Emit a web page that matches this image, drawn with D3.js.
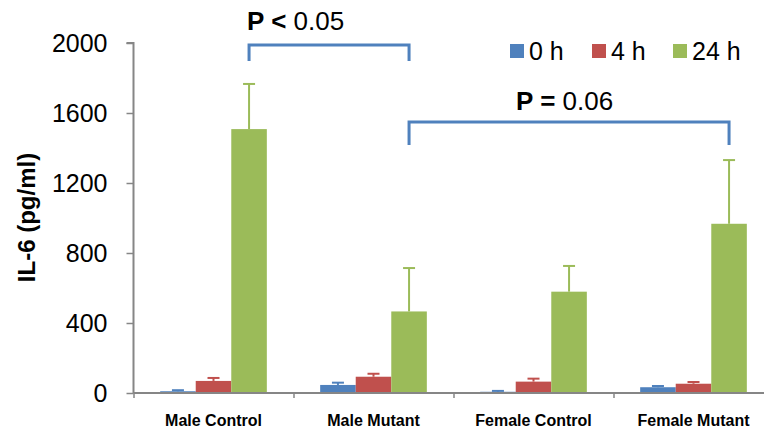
<!DOCTYPE html>
<html>
<head>
<meta charset="utf-8">
<script src="https://cdn.jsdelivr.net/npm/d3@7"></script>
<style>
  body { margin: 0; background: #fff; }
  svg { display: block; font-family: "Liberation Sans", Arial, sans-serif; }
</style>
</head>
<body>
<div id="chart"></div>
<script>
// Data
const groups = ["Male Control", "Male Mutant", "Female Control", "Female Mutant"];
const series = ["0 h", "4 h", "24 h"];
const colors = ["#4F81BD", "#C0504D", "#9BBB59"];

const h0 = [10, 46, 7, 33];
const h4 = [69, 93, 65, 53];
const h24 = [1508, 466, 579, 967];

// upper error per bar
const e0 = [6, 13, 5, 7];
const e4 = [17, 17, 17, 10];
const e24 = [258, 248, 147, 364];

const yTicks = [0, 400, 800, 1200, 1600, 2000];

// significance brackets (between the 24 h bars)
const brackets = [
    { from: 0, to: 1, level: 1989, drop: 16, op: "<", label: "0.05", dx: 0, dy: 15 },
    { from: 1, to: 3, level: 1549, drop: 23, op: "=", label: "0.06", dx: 109, dy: 12 }
];

const width = 764;
const height = 434;

const svg = d3.select("#chart")
    .append("svg")
    .attr("width", width)
    .attr("height", height);

const left = 133.5, right = 773.5;
const y = d3.scaleLinear().domain([0, 2000]).range([393, 43]);

const x = d3.scaleBand().domain(groups).range([left, right]);
const xs = d3.scaleBand().domain(series)
    .range([0, x.bandwidth()])
    .paddingInner(0)
    .paddingOuter(0.75);

const values = [h0, h4, h24];
const errs = [e0, e4, e24];

const rows = [];
series.forEach((s, si) => {
    groups.forEach((g, gi) => {
        rows.push({ g, s, si, v: values[si][gi], e: errs[si][gi] });
    });
});

// Bars
svg.append("g")
    .selectAll("rect")
    .data(rows)
    .join("rect")
    .attr("x", d => x(d.g) + xs(d.s))
    .attr("y", d => y(d.v))
    .attr("width", xs.bandwidth())
    .attr("height", d => y(0) - y(d.v))
    .attr("fill", d => colors[d.si]);

// Error bars (upper only)
const cx = d => x(d.g) + xs(d.s) + xs.bandwidth() / 2;
const eb = svg.append("g")
    .selectAll("g")
    .data(rows)
    .join("g")
    .attr("stroke", d => colors[d.si])
    .attr("stroke-width", 2);

eb.append("line")
    .attr("x1", cx)
    .attr("x2", cx)
    .attr("y1", d => y(d.v))
    .attr("y2", d => y(d.v + d.e));

eb.append("line")
    .attr("x1", d => cx(d) - 6)
    .attr("x2", d => cx(d) + 6)
    .attr("y1", d => y(d.v + d.e))
    .attr("y2", d => y(d.v + d.e));

// Y axis
const yAxis = svg.append("g")
    .attr("transform", `translate(${left},0)`)
    .call(d3.axisLeft(y).tickValues(yTicks).tickFormat(d3.format("d")).tickSize(7).tickPadding(19));
yAxis.select(".domain").attr("stroke", "#868686").attr("stroke-width", 2)
    .attr("d", `M-7,${y(2000)}H0V${y(0)}`);
yAxis.selectAll(".tick line").attr("stroke", "#868686").attr("stroke-width", 1.5);
yAxis.selectAll(".tick text")
    .attr("fill", "#000")
    .style("font-size", "25px");

// X axis: boundary ticks
const xIdx = d3.scaleLinear().domain([0, groups.length]).range([left, right]);
const xAxis = svg.append("g")
    .attr("transform", `translate(0,${y(0)})`)
    .call(d3.axisBottom(xIdx).tickValues(d3.range(groups.length + 1)).tickSize(5).tickFormat(""));
xAxis.select(".domain").attr("stroke", "#868686").attr("stroke-width", 2)
    .attr("d", `M${left},0H${right}`);
xAxis.selectAll(".tick line").attr("stroke", "#868686").attr("stroke-width", 1.5);

// X axis: category labels
const xLab = svg.append("g")
    .attr("transform", `translate(0,${y(0)})`)
    .call(d3.axisBottom(x).tickSize(0).tickPadding(22));
xLab.select(".domain").remove();
xLab.selectAll(".tick text")
    .attr("fill", "#000")
    .style("font-size", "16px")
    .style("font-weight", "bold");

// Y axis title
svg.append("text")
    .attr("transform", `translate(35,${(148 + 287) / 2}) rotate(-90)`)
    .attr("text-anchor", "middle")
    .style("font-size", "24px")
    .style("font-weight", "bold")
    .text("IL-6 (pg/ml)");

// Significance brackets
const gx = i => x(groups[i]) + xs("24 h") + xs.bandwidth() / 2;
brackets.forEach(b => {
    const xa = gx(b.from);
    const xb = gx(b.to);
    const yb = y(b.level);
    svg.append("path")
        .attr("fill", "none")
        .attr("stroke", "#4F81BD")
        .attr("stroke-width", 3)
        .attr("d", `M${xa},${yb + b.drop}V${yb}H${xb}V${yb + b.drop}`);
    const t = svg.append("text")
        .attr("x", xa - 2 + b.dx)
        .attr("y", yb - b.dy)
        .style("font-size", "26px");
    t.append("tspan").style("font-weight", "bold").text(`P ${b.op} `);
    t.append("tspan").text(b.label);
});

// Legend
const legend = svg.append("g")
    .selectAll("g")
    .data(series)
    .join("g")
    .attr("transform", (d, i) => `translate(${[510, 592, 673][i]},44)`);
legend.append("rect")
    .attr("width", 14)
    .attr("height", 14)
    .attr("fill", (d, i) => colors[i]);
legend.append("text")
    .attr("x", 19)
    .attr("y", 16)
    .style("font-size", "25px")
    .text(d => d);
</script>
</body>
</html>
